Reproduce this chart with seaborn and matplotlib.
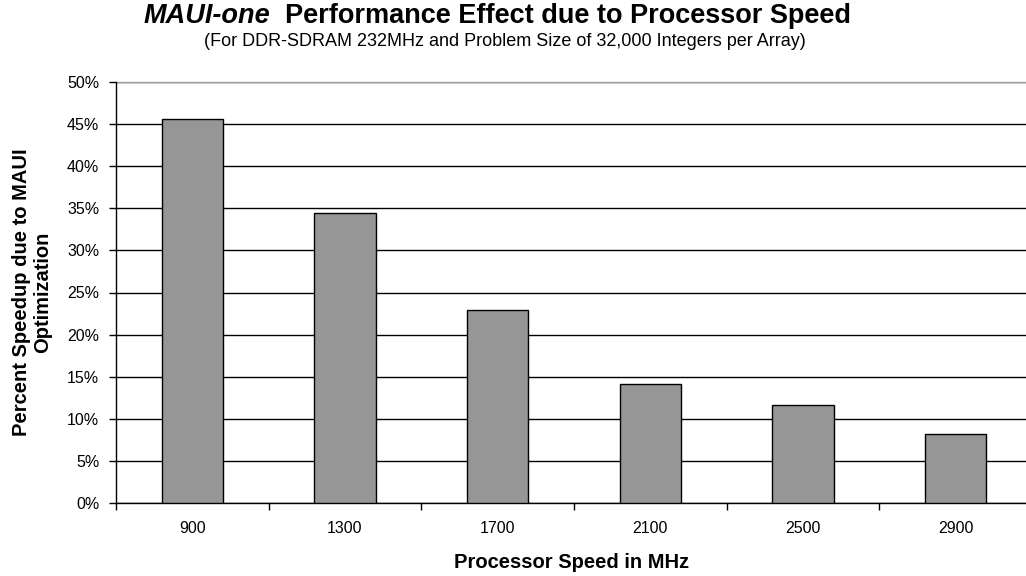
import matplotlib
matplotlib.use("Agg")
import matplotlib.pyplot as plt
import seaborn as sns
import pandas as pd
from matplotlib.ticker import FuncFormatter, FixedLocator

speeds = ["900", "1300", "1700", "2100", "2500", "2900"]
speedup = [45.6, 34.5, 22.9, 14.1, 11.6, 8.25]

sns.set_theme(style="white")
plt.rcParams['font.family'] = ['Liberation Sans', 'DejaVu Sans']
plt.rcParams['text.color'] = 'black'
plt.rcParams['axes.labelcolor'] = 'black'
plt.rcParams['xtick.color'] = 'black'
plt.rcParams['ytick.color'] = 'black'

df = pd.DataFrame({"speed": speeds, "speedup": speedup})

fig = plt.figure(figsize=(10.26, 5.76), dpi=100)
ax = fig.add_axes([116/1026, 1 - 503/576, (1032 - 116)/1026, (503 - 82)/576])

sns.barplot(data=df, x="speed", y="speedup", color="#969696", saturation=1,
            edgecolor="black", linewidth=1, width=0.4, ax=ax, zorder=3)

ax.set_ylim(0, 50)
ax.set_xlim(-0.5, 5.5)
ax.set_yticks(range(0, 51, 5))
ax.yaxis.set_major_formatter(FuncFormatter(lambda v, p: f"{int(v)}%"))
ax.yaxis.grid(True, color="black", linewidth=1, zorder=0)
ax.set_axisbelow(True)
for s in ["top", "right"]:
    ax.spines[s].set_visible(False)
for s in ["left", "bottom"]:
    ax.spines[s].set_color("black")
    ax.spines[s].set_linewidth(1)
ax.axhline(50, color="#a0a0a0", linewidth=1, zorder=1, clip_on=False)

ax.tick_params(axis="y", which="major", direction="out", length=5, width=1,
               color="black", left=True, labelsize=11.5, pad=7, labelcolor="black")
ax.tick_params(axis="x", which="major", length=0, labelsize=11.5, pad=13, labelcolor="black")
ax.xaxis.set_minor_locator(FixedLocator([i - 0.5 for i in range(7)]))
ax.tick_params(axis="x", which="minor", direction="out", length=5, width=1,
               color="black", bottom=True)

ax.set_xlabel("")
ax.set_ylabel("")
fig.text(572/1026, 1 - 563/576, "Processor Speed in MHz", ha="center", va="center",
         fontsize=14.5, fontweight="bold")
fig.text(32/1026, 1 - 292/576, "Percent Speedup due to MAUI\nOptimization", rotation=90,
         ha="center", va="center", fontsize=14.5, fontweight="bold", multialignment="center",
         linespacing=1.1)

# Title in two parts
fig.canvas.draw()
renderer = fig.canvas.get_renderer()
t1 = fig.text(0, 1 - 16/576, "MAUI-one", fontsize=19.5, fontweight="bold", style="italic",
              ha="left", va="center")
t2 = fig.text(0, 1 - 16/576, "  Performance Effect due to Processor Speed", fontsize=19.5,
              fontweight="bold", ha="left", va="center")
w1 = t1.get_window_extent(renderer).width
w2 = t2.get_window_extent(renderer).width
start = 497 - (w1 + w2) / 2
t1.set_x(start / 1026)
t2.set_x((start + w1) / 1026)
fig.text(505/1026, 1 - 41/576,
         "(For DDR-SDRAM 232MHz and Problem Size of 32,000 Integers per Array)",
         fontsize=13, ha="center", va="center")

fig.savefig("out.png", dpi=100, facecolor="white")
